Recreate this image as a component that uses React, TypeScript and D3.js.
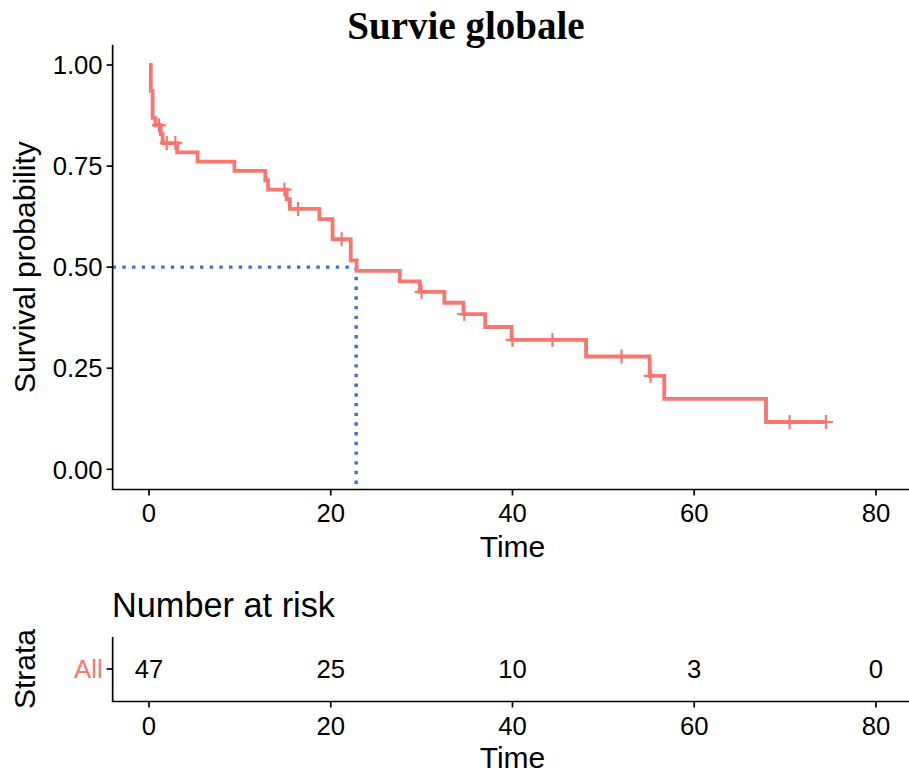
import React from "react";
import * as d3 from "d3";

const eventTimes = [0.2, 0.4, 0.7, 1.3, 1.5, 3.1, 5.35, 9.4, 12.8, 13.1, 15.15, 15.5, 18.75, 20.2, 22.2, 22.85, 27.6, 29.8, 32.5, 34.6, 37.0, 39.9, 48.1, 55.1, 56.7, 67.9];
const survival = [0.936, 0.869, 0.851, 0.829, 0.807, 0.784, 0.761, 0.738, 0.715, 0.692, 0.668, 0.644, 0.619, 0.569, 0.517, 0.491, 0.465, 0.439, 0.412, 0.384, 0.352, 0.320, 0.279, 0.231, 0.174, 0.117];
const censorTimes = [1.1, 1.95, 2.9, 14.9, 16.4, 21.2, 30.0, 34.7, 40.0, 44.4, 52.0, 55.2, 70.5, 74.5];
const lastTime = 74.5;
const medianTime = 22.8;
const xTicks = [0, 20, 40, 60, 80];
const yTicks = [0, 0.25, 0.5, 0.75, 1];
const riskTimes = [0, 20, 40, 60, 80];
const riskCounts = [47, 25, 10, 3, 0];
const strataLabel = "All";

const CURVE = "#F8766D";
const MEDIAN = "#3D6FCB";
const SANS = "'Liberation Sans', Arial, Helvetica, sans-serif";

export default function App() {
  const x = d3.scaleLinear().domain([-4, 84]).range([112.65, 912.3]);
  const y = d3.scaleLinear().domain([-0.05, 1.05]).range([489.5, 44.8]);

  const pts: [number, number][] = [[0, 1]];
  eventTimes.forEach((t, i) => pts.push([t, survival[i]]));
  pts.push([lastTime, survival[survival.length - 1]]);
  const line = d3
    .line<[number, number]>()
    .x((d) => x(d[0]))
    .y((d) => y(d[1]))
    .curve(d3.curveStepAfter);

  const survAt = (t: number) => {
    let s = 1;
    eventTimes.forEach((et, i) => {
      if (et <= t) s = survival[i];
    });
    return s;
  };

  const axisX = x(-4);
  const axisY = y(-0.05);
  const tickFs = 25.7;
  const titleFs = 30;

  const rtTop = 637;
  const rtBottom = 701.5;
  const rtMid = 669;

  return (
    <svg
      width={909}
      height={776}
      style={{ position: "absolute", left: 0, top: 0, background: "#fff" }}
      fontFamily={SANS}
    >
      <rect x={0} y={0} width={909} height={776} fill="#fff" />
      <text
        x={466}
        y={39}
        textAnchor="middle"
        fontFamily="'Liberation Serif', 'Times New Roman', serif"
        fontWeight="bold"
        fontSize={39}
        fill="#000"
      >
        Survie globale
      </text>

      <line
        x1={axisX}
        x2={x(medianTime)}
        y1={y(0.5)}
        y2={y(0.5)}
        stroke={MEDIAN}
        strokeWidth={3.4}
        strokeDasharray="3.4 6.3"
      />
      <line
        x1={x(medianTime)}
        x2={x(medianTime)}
        y1={y(0.5)}
        y2={axisY - 1}
        stroke={MEDIAN}
        strokeWidth={3.4}
        strokeDasharray="3.4 6.3"
      />

      <path d={line(pts) || ""} fill="none" stroke={CURVE} strokeWidth={3.8} />
      {censorTimes.map((t, i) => {
        const cx = x(t);
        const cy = y(survAt(t));
        return (
          <g key={i} stroke={CURVE} strokeWidth={2.2}>
            <line x1={cx - 7} x2={cx + 7} y1={cy} y2={cy} />
            <line x1={cx} x2={cx} y1={cy - 7} y2={cy + 7} />
          </g>
        );
      })}

      <line x1={axisX} x2={axisX} y1={y(1.05)} y2={axisY} stroke="#000" strokeWidth={1.7} />
      <line x1={axisX - 0.85} x2={909} y1={axisY} y2={axisY} stroke="#000" strokeWidth={1.7} />
      {yTicks.map((t) => (
        <g key={t}>
          <line x1={axisX - 6} x2={axisX} y1={y(t)} y2={y(t)} stroke="#000" strokeWidth={1.7} />
          <text
            x={axisX - 10}
            y={y(t) + tickFs * 0.36}
            textAnchor="end"
            fontSize={tickFs}
            fill="#000"
          >
            {t.toFixed(2)}
          </text>
        </g>
      ))}
      {xTicks.map((t) => (
        <g key={t}>
          <line x1={x(t)} x2={x(t)} y1={axisY} y2={axisY + 6} stroke="#000" strokeWidth={1.7} />
          <text x={x(t)} y={521.5} textAnchor="middle" fontSize={tickFs} fill="#000">
            {t}
          </text>
        </g>
      ))}
      <text x={(axisX + 912.3) / 2} y={557} textAnchor="middle" fontSize={titleFs} fill="#000">
        Time
      </text>
      <text
        transform={`translate(35, ${(y(1.05) + axisY) / 2}) rotate(-90)`}
        textAnchor="middle"
        fontSize={titleFs}
        fill="#000"
      >
        Survival probability
      </text>

      <text x={112} y={617} fontSize={34.3} fill="#000">
        Number at risk
      </text>
      <line x1={axisX} x2={axisX} y1={rtTop} y2={rtBottom} stroke="#000" strokeWidth={1.7} />
      <line x1={axisX - 0.85} x2={909} y1={rtBottom} y2={rtBottom} stroke="#000" strokeWidth={1.7} />
      <line x1={axisX - 6} x2={axisX} y1={rtMid} y2={rtMid} stroke="#000" strokeWidth={1.7} />
      <text x={axisX - 10} y={rtMid + tickFs * 0.36} textAnchor="end" fontSize={tickFs} fill={CURVE}>
        {strataLabel}
      </text>
      {riskTimes.map((t, i) => (
        <text
          key={t}
          x={x(t)}
          y={rtMid + tickFs * 0.36}
          textAnchor="middle"
          fontSize={tickFs}
          fill="#000"
        >
          {riskCounts[i]}
        </text>
      ))}
      {xTicks.map((t) => (
        <g key={"r" + t}>
          <line x1={x(t)} x2={x(t)} y1={rtBottom} y2={rtBottom + 6} stroke="#000" strokeWidth={1.7} />
          <text x={x(t)} y={735} textAnchor="middle" fontSize={tickFs} fill="#000">
            {t}
          </text>
        </g>
      ))}
      <text x={(axisX + 912.3) / 2} y={768} textAnchor="middle" fontSize={titleFs} fill="#000">
        Time
      </text>
      <text
        transform={`translate(35, ${rtMid}) rotate(-90)`}
        textAnchor="middle"
        fontSize={titleFs}
        fill="#000"
      >
        Strata
      </text>
    </svg>
  );
}
